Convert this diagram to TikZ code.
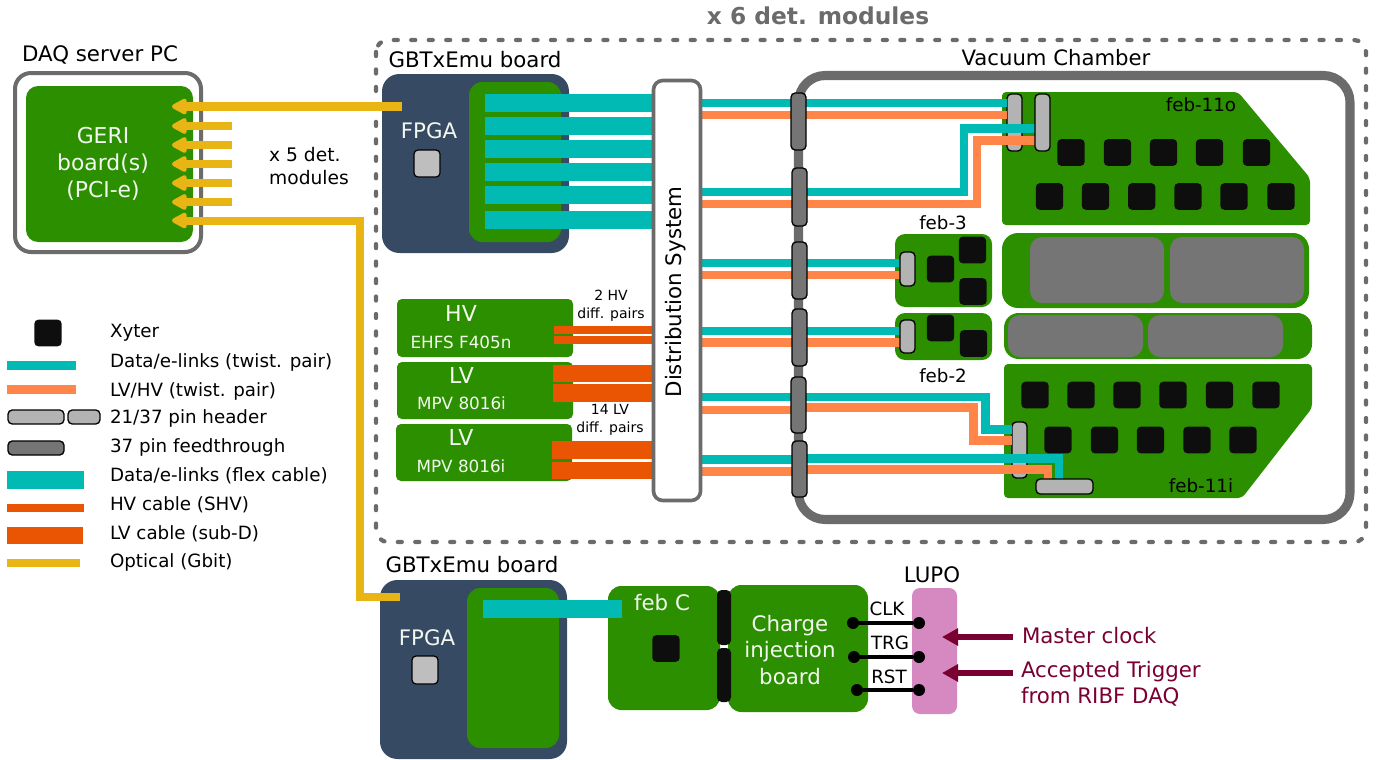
\documentclass[tikz,border=0pt]{standalone}
\usepackage{fontspec}
\setmainfont{DejaVu Sans}
\usetikzlibrary{arrows.meta}
\definecolor{pcb}{HTML}{2C8F00}
\definecolor{navy}{HTML}{364B63}
\definecolor{wall}{HTML}{6B6B6B}
\definecolor{tealc}{HTML}{00BAB3}
\definecolor{orangec}{HTML}{FF8648}
\definecolor{hvc}{HTML}{EA5504}
\definecolor{opt}{HTML}{E9B515}
\definecolor{chipc}{HTML}{0E0E0E}
\definecolor{hdr}{HTML}{B3B3B3}
\definecolor{ftc}{HTML}{757575}
\definecolor{lupoc}{HTML}{D688C1}
\definecolor{maroon}{HTML}{7A0031}
\newcommand{\fs}[1]{\fontsize{#1}{#1}\selectfont}
% \bx{name}{style}{x1}{y1}{x2}{y2}: box given in reference pixels
\newcommand{\bx}[6]{%
  \pgfmathsetmacro{\bxw}{(#5-#3)*0.75}%
  \pgfmathsetmacro{\bxh}{(#6-#4)*0.75}%
  \node[#2,minimum width=\bxw pt,minimum height=\bxh pt] (#1) at ({(#3+#5)/2},{(#4+#6)/2}) {};}
\tikzset{
  x=0.75pt,y=-0.75pt,
  base/.style={inner sep=0pt,outer sep=0pt,rectangle},
  board/.style={base,fill=pcb,rounded corners=#1},
  board/.default=9pt,
  navyboard/.style={base,fill=navy,rounded corners=13pt},
  chip/.style={base,fill=chipc,rounded corners=3pt,minimum width=20.5pt,minimum height=20pt},
  fpgachip/.style={base,fill=hdr!85!white,draw=black,line width=0.9pt,rounded corners=3pt},
  header/.style={base,fill=hdr,draw=black,line width=1pt,rounded corners=3.2pt},
  feedthru/.style={base,fill=ftc,draw=black,line width=1pt,rounded corners=3.2pt},
  wallbox/.style={base,draw=wall,fill=white,line width=#1},
  wallbox/.default=3pt,
  innergrey/.style={base,fill=ftc,rounded corners=9pt},
  flex/.style={draw=tealc,line width=13.2pt},
  twteal/.style={draw=tealc,line width=6.7pt,line join=miter},
  tworange/.style={draw=orangec,line width=6.7pt,line join=miter},
  hvcable/.style={draw=hvc,line width=6pt},
  lvcable/.style={draw=hvc,line width=13.2pt},
  optical/.style={draw=opt,line width=6pt,line join=miter},
  opticalbig/.style={draw=opt,line width=6.8pt,line join=miter},
  optarrow/.style={-{Triangle[length=13pt,width=13pt,round]}},
  sig/.style={draw=black,line width=3.7pt},
  pad/.style={circle,fill=black,inner sep=0pt,minimum size=9pt},
  ext/.style={draw=maroon,line width=5.2pt,-{Triangle[length=12pt,width=12.5pt]}},
  lab/.style={inner sep=0pt,outer sep=0pt,text=black,align=center},
  wlab/.style={lab,text=white!94!pcb},
  mlab/.style={lab,text=maroon,align=left,anchor=west},
  leg/.style={lab,anchor=west,font=\fs{13.7}},
}
\begin{document}
\begin{tikzpicture}
\useasboundingbox (0,0) rectangle (1386,760);

% ---- frames
\node[lab,text=wall,font=\fs{17.5}\bfseries] (title) at (818,16) {x 6 det. modules};
\draw[wall,line width=3.2pt,line cap=round,dash pattern=on 3pt off 10.1pt,rounded corners=9pt] (376,40) rectangle (1366,542);

% ---- DAQ server
\node[lab,font=\fs{16}] (daqlab) at (100,55) {DAQ server PC};
\bx{daq}{wallbox,rounded corners=12pt}{15}{73}{201}{252}
\bx{geri}{board=9pt}{26}{86}{193}{242}
\node[wlab,font=\fs{16.4},text width=100pt] (gerilab) at (103,164) {GERI\\[3.8pt]board(s)\\[3.8pt](PCI-e)};
\node[lab,font=\fs{14},align=left] (x5) at (309,166) {x 5 det.\\[3.2pt]modules};

% ---- top GBTxEmu
\node[lab,font=\fs{16}] (gbt1lab) at (475,60) {GBTxEmu board};
\bx{gbt1}{navyboard}{382}{74}{569}{253}
\bx{gbt1g}{board=10pt}{469}{82}{561}{242}
\node[wlab,font=\fs{16}] (fpga1) at (429,131) {FPGA};
\bx{fpga1chip}{fpgachip}{414}{150}{440}{177}

% ---- vacuum chamber
\node[lab,font=\fs{15.9}] (vaclab) at (1056,58) {Vacuum Chamber};
\bx{vac}{base,draw=wall,line width=6.8pt,rounded corners=20pt}{798.5}{75.5}{1350}{519.5}

% ---- PCBs in chamber
\draw[fill=pcb,draw=none,rounded corners=3pt] (1002,92) coordinate (o1) -- (1238,92) -- (1310,178) -- (1310,225) -- (1002,225) -- cycle;
\draw[fill=pcb,draw=none,rounded corners=3pt] (1004,364) coordinate (i1) -- (1312,364) -- (1312,408) -- (1242,498) -- (1004,498) -- cycle;
\bx{rig1}{board=12pt}{1002}{233}{1309}{308}
\bx{rig1a}{innergrey}{1030}{237}{1164}{303}
\bx{rig1b}{innergrey}{1170}{237}{1304}{303}
\bx{rig2}{board=11pt}{1004}{313}{1312}{359}
\bx{rig2a}{innergrey}{1008}{315}{1143}{357}
\bx{rig2b}{innergrey}{1148}{315}{1283}{357}
\bx{feb3}{board=7.5pt}{895}{234}{992}{307}
\bx{feb2}{board=7.5pt}{895}{313}{992}{360}
\foreach \x [count=\i] in {1071,1117.5,1163.5,1209.5,1256.5} \node[chip] (oa\i) at (\x,152.5) {};
\foreach \x [count=\i] in {1049.5,1095.5,1141.7,1188,1234,1281} \node[chip] (ob\i) at (\x,196.5) {};
\foreach \x [count=\i] in {1035,1081,1127,1173,1219.5,1266} \node[chip] (ia\i) at (\x,395) {};
\foreach \x [count=\i] in {1058,1104.5,1150.5,1197,1243} \node[chip] (ib\i) at (\x,440) {};
\node[chip] (c31) at (972.5,250) {};
\node[chip] (c32) at (940.5,269) {};
\node[chip] (c33) at (973,291.5) {};
\node[chip] (c21) at (940.5,328) {};
\node[chip] (c22) at (973.5,343.5) {};
\node[lab,font=\fs{13.7}] (l11o) at (1201,105) {feb-11o};
\node[lab,font=\fs{13.7}] (l11i) at (1201,486) {feb-11i};
\node[lab,font=\fs{13.7}] (l3) at (943,223) {feb-3};
\node[lab,font=\fs{13.7}] (l2) at (943,376) {feb-2};

% ---- HV / LV supplies
\bx{hv}{board=3.7pt}{397}{299}{573}{357}
\bx{lv1}{board=3.7pt}{397}{362}{573}{419}
\bx{lv2}{board=3.7pt}{396}{424}{572}{481}
\node[wlab,font=\fs{16.5}] (hvt) at (461,313) {HV};
\node[wlab,font=\fs{12.6}] (hvs) at (461,342) {EHFS F405n};
\node[wlab,font=\fs{16.5}] (lv1t) at (461.5,375) {LV};
\node[wlab,font=\fs{12.6}] (lv1s) at (461.5,403) {MPV 8016i};
\node[wlab,font=\fs{16.5}] (lv2t) at (461,437) {LV};
\node[wlab,font=\fs{12.6}] (lv2s) at (461,466) {MPV 8016i};
\node[lab,font=\fs{10.5}] (hvp) at (611,306) {2 HV\\[3pt]diff. pairs};
\node[lab,font=\fs{10.5}] (lvp) at (610,420) {14 LV\\[3pt]diff. pairs};

% ---- headers drawn beneath the cables
\bx{h11o}{header}{1007}{94}{1022}{151}
\bx{h11i}{header}{1012}{422}{1027}{478}

% ---- distribution system anchors
\bx{dist}{base}{653.5}{80.5}{700.5}{500.5}

% ---- flex cables
\foreach \y in {103,126,149,172,195,220} \draw[flex] (485,\y) -- (dist.west |- 0,\y);

% ---- HV/LV cables
\draw[hvcable] (554,329.5) coordinate (hva) -- (dist.west |- hva);
\draw[hvcable] (554,340) coordinate (hvb) -- (dist.west |- hvb);
\draw[lvcable] (553,373.5) coordinate (lva) -- (dist.west |- lva);
\draw[lvcable] (553,393) coordinate (lvb) -- (dist.west |- lvb);
\draw[lvcable] (552,450) coordinate (lvc) -- (dist.west |- lvc);
\draw[lvcable] (552,470.5) coordinate (lvd) -- (dist.west |- lvd);

% ---- twisted pairs
\draw[twteal] (dist.east |- 0,103) -- (h11o.west |- 0,103);
\draw[tworange] (dist.east |- 0,115) -- (h11o.west |- 0,115);
\draw[twteal] (dist.east |- 0,192) -| (964,128.5) -- (1036,128.5) coordinate (t2e);
\draw[tworange] (dist.east |- 0,204) -| (977,140.5) -- (1036,140.5) coordinate (o2e);
\bx{h11ob}{header}{1035}{94}{1050}{151}
\draw[twteal] (dist.east |- 0,263) -- (900,263) coordinate (t3e);
\draw[tworange] (dist.east |- 0,275) -- (900,275) coordinate (o3e);
\draw[twteal] (dist.east |- 0,331) -- (900,331) coordinate (t4e);
\draw[tworange] (dist.east |- 0,342.5) -- (900,342.5) coordinate (o4e);
\draw[twteal] (dist.east |- 0,397) -| (985.5,429.5) -- (h11i.west |- 0,429.5);
\draw[tworange] (dist.east |- 0,410) -- (800,410);
\draw[tworange] (800,407.5) -| (973.5,440.5) -- (h11i.west |- 0,440.5);
\draw[twteal] (dist.east |- 0,459.5) -- (800,459.5);
\draw[tworange] (dist.east |- 0,471.5) -- (800,471.5);
\draw[twteal] (800,458.5) -| (1059,482) coordinate (t6e);
\draw[tworange] (800,469.5) -| (1048,482) coordinate (o6e);

% ---- remaining headers and feedthroughs
\bx{h3}{header}{900}{252}{915}{286}
\bx{h2}{header}{900}{320}{915}{353}
\bx{hh}{header}{1036}{479}{1093}{494}
\bx{ft1}{feedthru}{791}{93}{806}{150}
\bx{ft2}{feedthru}{792}{168}{807}{226}
\bx{ft3}{feedthru}{792}{242}{807}{299}
\bx{ft4}{feedthru}{792}{309}{807}{366}
\bx{ft5}{feedthru}{791}{377}{806}{433}
\bx{ft6}{feedthru}{792}{441}{807}{497}

% ---- distribution system box
\bx{distb}{wallbox=2.7pt,rounded corners=7pt}{653.5}{80.5}{700.5}{500.5}
\node[lab,font=\fs{16},rotate=90] (distl) at (676,292) {Distribution System};

% ---- optical links
\bx{gbt2}{navyboard}{380}{580}{567}{759}
\draw[opticalbig,optarrow] (402,106.5) coordinate (op1) -- (172,106.5);
\foreach \y in {126,145,164,183,202} \draw[optical,optarrow] (232,\y) -- (172,\y);
\draw[optical,optarrow] (400,597) coordinate (op7) -| (360,220.5) -- (172,220.5);
\bx{gbt2g}{board=10pt}{467}{588}{559}{748}
\node[lab,font=\fs{16}] (gbt2lab) at (472,565) {GBTxEmu board};
\node[wlab,font=\fs{16}] (fpga2) at (427,638) {FPGA};
\bx{fpga2chip}{fpgachip}{412}{656}{438}{684}

% ---- bottom row
\bx{febc}{board=10pt}{608}{586}{720}{710}
\bx{chg}{board=10pt}{728}{585}{868}{712}
\draw[flex] (483,609) coordinate (fcs) -- (622,609) coordinate (fce);
\node[wlab,font=\fs{16}] (febcl) at (662,603) {feb C};
\node[chip] (febcc) at (666,648.5) {};
\bx{cn1}{base,fill=chipc,rounded corners=3.5pt}{717}{590}{731}{645}
\bx{cn2}{base,fill=chipc,rounded corners=3.5pt}{717}{648}{731}{702}
\node[wlab,font=\fs{16}] (chgl) at (790,650) {Charge\\[3.9pt]injection\\[3.9pt]board};
\bx{lupo}{base,fill=lupoc,rounded corners=6pt}{912}{588}{957}{714}
\node[lab,font=\fs{16}] (lupol) at (932,575) {LUPO};
\node[pad] (clka) at (853,623) {}; \node[pad] (clkb) at (919,623) {};
\node[pad] (trga) at (854,657) {}; \node[pad] (trgb) at (919,657) {};
\node[pad] (rsta) at (857,690) {}; \node[pad] (rstb) at (919,690) {};
\draw[sig] (clka) -- (clkb);
\draw[sig] (trga) -- (trgb);
\draw[sig] (rsta) -- (rstb);
\node[lab,font=\fs{13.7}] (clkl) at (887,609) {CLK};
\node[lab,font=\fs{13.7}] (trgl) at (890,643) {TRG};
\node[lab,font=\fs{13.7}] (rstl) at (889,677) {RST};
\node[mlab,font=\fs{16}] (mcl) at (1022,636) {Master clock};
\node[mlab,font=\fs{16}] (atl) at (1021,684) {Accepted Trigger\\[3.5pt]from RIBF DAQ};
\draw[ext] (1013,637) coordinate (mcs) -- (942,637);
\draw[ext] (1013,673) coordinate (ats) -- (942,673);

% ---- legend
\node[chip] (lg1) at (48,333) {};
\draw[twteal] (7,365.5) coordinate (lg2a) -- (76,365.5);
\draw[tworange] (7,389.5) coordinate (lg3a) -- (76,389.5);
\bx{lg4a}{header}{8}{410}{64}{424}
\bx{lg4b}{header}{68}{410}{100}{424}
\bx{lg5}{feedthru}{8}{441}{64}{455}
\draw[flex] (7,480) coordinate (lg6a) -- (84,480);
\draw[hvcable] (7,507.5) coordinate (lg7a) -- (84,507.5);
\draw[lvcable] (7,535.5) coordinate (lg8a) -- (83,535.5);
\draw[optical] (7,563) coordinate (lg9a) -- (80,563);
\node[leg] (t1) at (110,333) {Xyter};
\node[leg] (t2) at (110,362) {Data/e-links (twist. pair)};
\node[leg] (t3) at (110,391) {LV/HV (twist. pair)};
\node[leg] (t4) at (110,418) {21/37 pin header};
\node[leg] (t5) at (110,447) {37 pin feedthrough};
\node[leg] (t6) at (110,476) {Data/e-links (flex cable)};
\node[leg] (t7) at (110,505) {HV cable (SHV)};
\node[leg] (t8) at (110,534) {LV cable (sub-D)};
\node[leg] (t9) at (110,562) {Optical (Gbit)};
\end{tikzpicture}
\end{document}
